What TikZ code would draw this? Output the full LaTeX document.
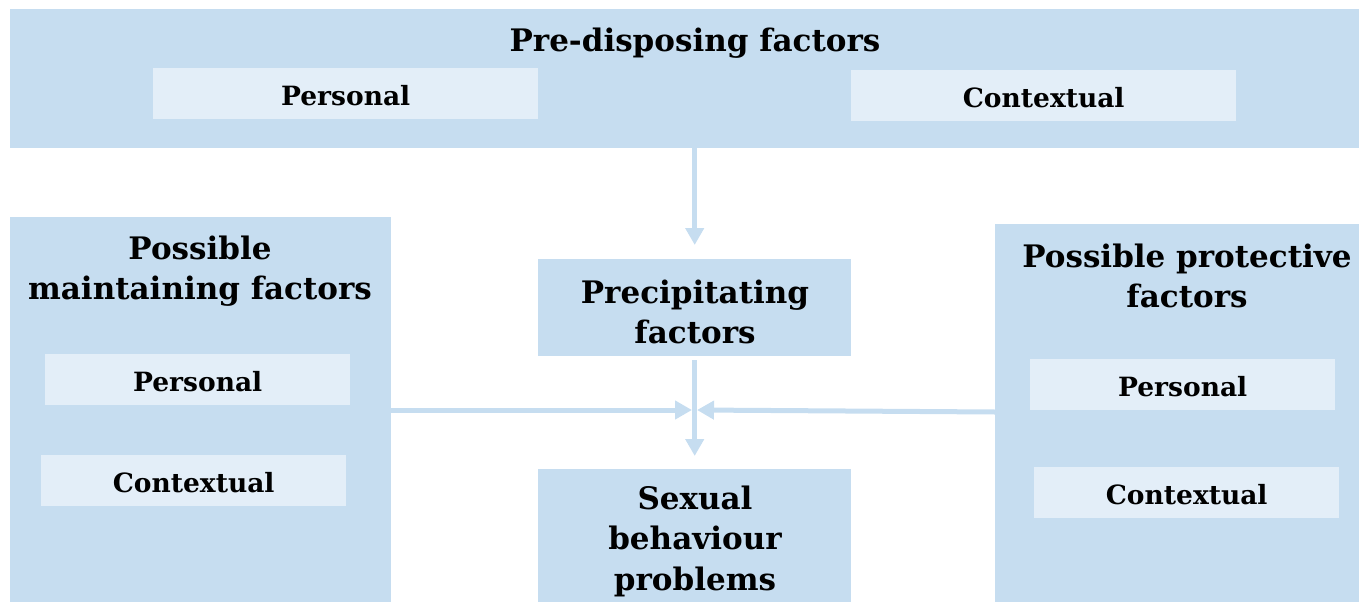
\documentclass[tikz,border=0pt]{standalone}
\usepackage{fontspec}
\setmainfont{DejaVu Serif}
\usetikzlibrary{arrows.meta}
\definecolor{boxblue}{HTML}{C6DDF0}
\definecolor{lightblue}{HTML}{E3EEF8}
\tikzset{
  bigbox/.style={fill=boxblue, draw=none, anchor=north west, inner sep=0pt},
  subbox/.style={fill=lightblue, draw=none, anchor=north west, inner sep=0pt},
  bigtext/.style={font=\fontsize{31}{40.5}\selectfont\bfseries, align=center, inner sep=0pt},
  subtext/.style={font=\fontsize{26.5}{30}\selectfont\bfseries, inner sep=0pt},
  arr/.style={draw=boxblue, line width=5pt, -{Triangle[width=18pt,length=17pt]}},
}
\begin{document}
\begin{tikzpicture}[x=1pt,y=-1pt]
\useasboundingbox (0,0) rectangle (1359,602);
% boxes
\node[bigbox, minimum width=1349pt, minimum height=139pt] (pre) at (10,9) {};
\node[subbox, minimum width=385pt, minimum height=51pt] (prep) at (153,68) {};
\node[subbox, minimum width=385pt, minimum height=51pt] (prec2) at (851,70) {};
\node[bigbox, minimum width=381pt, minimum height=385pt] (main) at (10,217) {};
\node[subbox, minimum width=305pt, minimum height=51pt] (mainp) at (45,354) {};
\node[subbox, minimum width=305pt, minimum height=51pt] (mainc) at (41,455) {};
\node[bigbox, minimum width=313pt, minimum height=97pt] (prec) at (538,259) {};
\node[bigbox, minimum width=313pt, minimum height=133pt] (sbp) at (538,469) {};
\node[bigbox, minimum width=364pt, minimum height=378pt] (prot) at (995,224) {};
\node[subbox, minimum width=305pt, minimum height=51pt] (protp) at (1030,359) {};
\node[subbox, minimum width=305pt, minimum height=51pt] (protc) at (1034,467) {};
% texts
\node[bigtext] (tpre) at (695,43) {Pre-disposing factors};
\node[subtext] (tprep) at ([yshift=-2pt]prep.center) {Personal};
\node[subtext] (tprec2) at ([yshift=-2pt]prec2.center) {Contextual};
\node[bigtext] (tmain) at (200,271) {Possible\\maintaining factors};
\node[subtext] (tmainp) at ([yshift=-2pt]mainp.center) {Personal};
\node[subtext] (tmainc) at ([yshift=-2pt]mainc.center) {Contextual};
\node[bigtext] (tprec) at (695,312) {Precipitating\\factors};
\node[bigtext] (tsbp) at (695,541) {Sexual\\behaviour\\problems};
\node[bigtext] (tprot) at (1187,276) {Possible protective\\factors};
\node[subtext] (tprotp) at ([yshift=-2pt]protp.center) {Personal};
\node[subtext] (tprotc) at ([yshift=-2pt]protc.center) {Contextual};
% arrows
\coordinate (meetl) at (692,410);
\coordinate (meetr) at (697,410);
\coordinate (mainout) at (391,410);
\coordinate (protout) at (995,412);
\draw[arr, shorten >=14pt] (pre.south -| prec.north) -- (prec.north);
\draw[arr, shorten <=4pt, shorten >=13pt] (prec.south) -- (sbp.north);
\draw[arr] (mainout) -- (meetl);
\draw[arr] (protout) -- (meetr);
\end{tikzpicture}
\end{document}
